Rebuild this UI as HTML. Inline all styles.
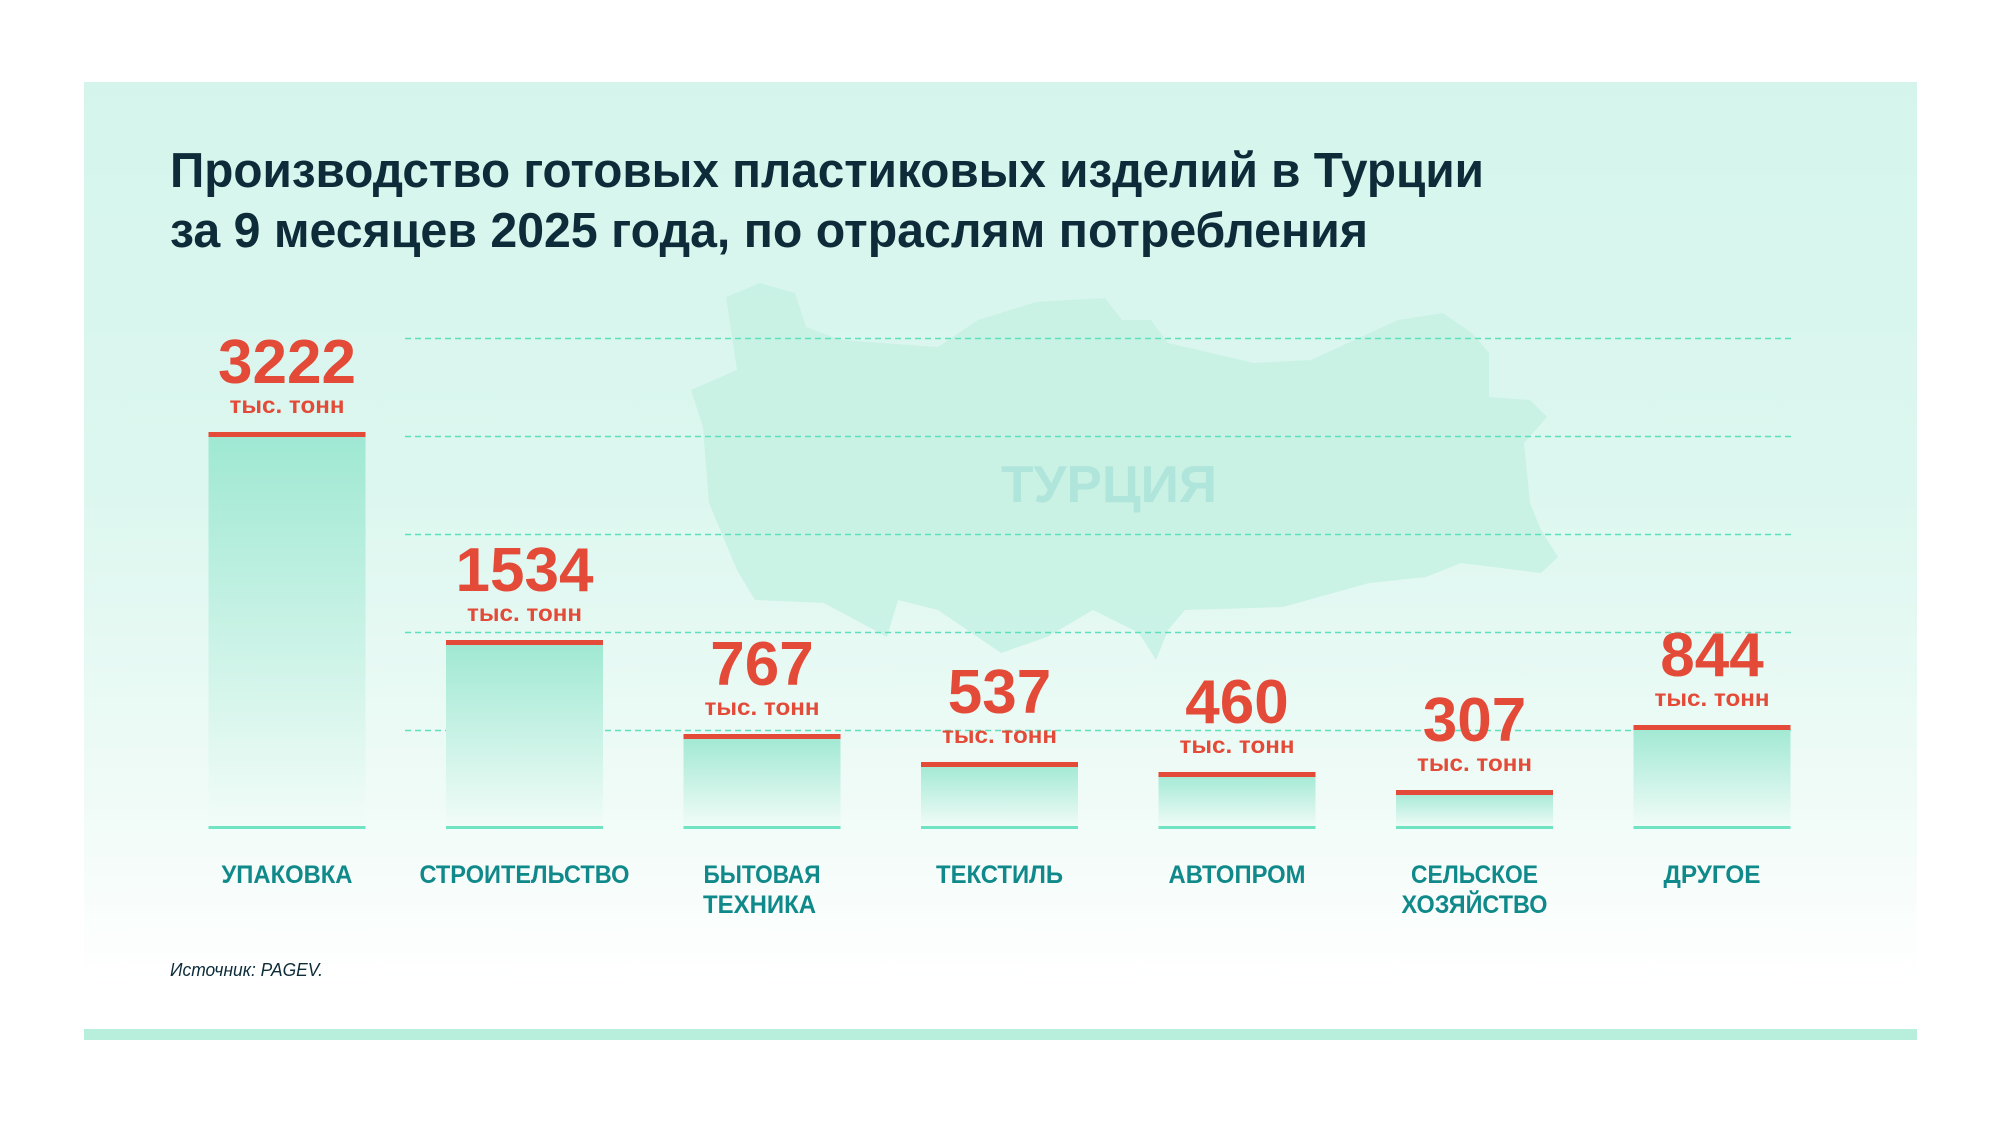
<!DOCTYPE html>
<html><head><meta charset="utf-8"><style>
html,body{margin:0;padding:0;background:#fff;}
svg{display:block;}
text{font-family:"Liberation Sans","DejaVu Sans",sans-serif;}
</style></head><body>
<svg width="2000" height="1125" viewBox="0 0 2000 1125" xmlns="http://www.w3.org/2000/svg">
<defs>
<linearGradient id="bg" x1="0" y1="0" x2="0" y2="1">
<stop offset="0" stop-color="#d5f5ec"/>
<stop offset="0.45" stop-color="#dcf7ef"/>
<stop offset="0.8" stop-color="#f0fbf7"/>
<stop offset="1" stop-color="#ffffff"/>
</linearGradient>
<linearGradient id="bar" x1="0" y1="0" x2="0" y2="1">
<stop offset="0" stop-color="#9ee8d2"/>
<stop offset="1" stop-color="#f2fcf8"/>
</linearGradient>
</defs>
<rect x="84" y="82" width="1833" height="900" fill="url(#bg)"/>
<rect x="84" y="1029" width="1833" height="11" fill="#b8eedc"/>
<polygon fill="#c6f1e3" opacity="0.85" points="703,427 691,390 737,370 726,297 760,283 795,293 806,327 841,340 938,347 978,320 1036,302 1105,298 1122,320 1151,320 1168,343 1254,363 1311,360 1398,320 1443,313 1472,333 1489,353 1489,397 1530,400 1547,417 1524,443 1530,503 1541,530 1558,557 1541,573 1461,563 1426,577 1369,583 1283,607 1185,610 1168,630 1156,660 1139,633 1093,610 1047,637 1001,653 938,610 898,600 887,637 824,603 755,600 737,570 709,503"/>
<text x="1109" y="502" font-size="52" font-weight="bold" fill="#b0e5db" text-anchor="middle" textLength="216" lengthAdjust="spacingAndGlyphs">ТУРЦИЯ</text>
<text x="170" y="187" font-size="49" font-weight="bold" fill="#0d2b38" textLength="1314" lengthAdjust="spacingAndGlyphs">Производство готовых пластиковых изделий в Турции</text>
<text x="170" y="247" font-size="49" font-weight="bold" fill="#0d2b38" textLength="1198" lengthAdjust="spacingAndGlyphs">за 9 месяцев 2025 года, по отраслям потребления</text>
<g stroke="#5fe0bc" stroke-width="1.5" stroke-dasharray="6,4">
<line x1="405" y1="338.5" x2="1791" y2="338.5"/>
<line x1="405" y1="436.5" x2="1791" y2="436.5"/>
<line x1="405" y1="534.5" x2="1791" y2="534.5"/>
<line x1="405" y1="632.5" x2="1791" y2="632.5"/>
<line x1="405" y1="730.5" x2="1791" y2="730.5"/>
</g>
<g>
<rect x="208.5" y="432" width="157" height="396" fill="url(#bar)"/>
<rect x="446" y="640" width="157" height="188" fill="url(#bar)"/>
<rect x="683.5" y="734" width="157" height="94" fill="url(#bar)"/>
<rect x="921" y="762" width="157" height="66" fill="url(#bar)"/>
<rect x="1158.5" y="772" width="157" height="56" fill="url(#bar)"/>
<rect x="1396" y="790" width="157" height="38" fill="url(#bar)"/>
<rect x="1633.5" y="725" width="157" height="103" fill="url(#bar)"/>
</g>
<g fill="#e34a37">
<rect x="208.5" y="432" width="157" height="5"/>
<rect x="446" y="640" width="157" height="5"/>
<rect x="683.5" y="734" width="157" height="5"/>
<rect x="921" y="762" width="157" height="5"/>
<rect x="1158.5" y="772" width="157" height="5"/>
<rect x="1396" y="790" width="157" height="5"/>
<rect x="1633.5" y="725" width="157" height="5"/>
</g>
<g fill="#6fe3c2">
<rect x="208.5" y="826" width="157" height="3"/>
<rect x="446" y="826" width="157" height="3"/>
<rect x="683.5" y="826" width="157" height="3"/>
<rect x="921" y="826" width="157" height="3"/>
<rect x="1158.5" y="826" width="157" height="3"/>
<rect x="1396" y="826" width="157" height="3"/>
<rect x="1633.5" y="826" width="157" height="3"/>
</g>
<g fill="#e34a37" font-weight="bold" text-anchor="middle">
<text x="287" y="383" font-size="62">3222</text>
<text x="287" y="413" font-size="23" textLength="115" lengthAdjust="spacingAndGlyphs">тыс. тонн</text>
<text x="524.5" y="591" font-size="62">1534</text>
<text x="524.5" y="621" font-size="23" textLength="115" lengthAdjust="spacingAndGlyphs">тыс. тонн</text>
<text x="762" y="685" font-size="62">767</text>
<text x="762" y="715" font-size="23" textLength="115" lengthAdjust="spacingAndGlyphs">тыс. тонн</text>
<text x="999.5" y="713" font-size="62">537</text>
<text x="999.5" y="743" font-size="23" textLength="115" lengthAdjust="spacingAndGlyphs">тыс. тонн</text>
<text x="1237" y="723" font-size="62">460</text>
<text x="1237" y="753" font-size="23" textLength="115" lengthAdjust="spacingAndGlyphs">тыс. тонн</text>
<text x="1474.5" y="741" font-size="62">307</text>
<text x="1474.5" y="771" font-size="23" textLength="115" lengthAdjust="spacingAndGlyphs">тыс. тонн</text>
<text x="1712" y="676" font-size="62">844</text>
<text x="1712" y="706" font-size="23" textLength="115" lengthAdjust="spacingAndGlyphs">тыс. тонн</text>
</g>
<g fill="#10898a" font-weight="bold" font-size="25" text-anchor="middle">
<text x="287" y="883" textLength="131" lengthAdjust="spacingAndGlyphs">УПАКОВКА</text>
<text x="524.5" y="883" textLength="210" lengthAdjust="spacingAndGlyphs">СТРОИТЕЛЬСТВО</text>
<text x="762" y="883" textLength="117" lengthAdjust="spacingAndGlyphs">БЫТОВАЯ</text>
<text x="759.5" y="913" textLength="113" lengthAdjust="spacingAndGlyphs">ТЕХНИКА</text>
<text x="999.5" y="883" textLength="127" lengthAdjust="spacingAndGlyphs">ТЕКСТИЛЬ</text>
<text x="1237" y="883" textLength="137" lengthAdjust="spacingAndGlyphs">АВТОПРОМ</text>
<text x="1474.5" y="883" textLength="127" lengthAdjust="spacingAndGlyphs">СЕЛЬСКОЕ</text>
<text x="1474.5" y="913" textLength="146" lengthAdjust="spacingAndGlyphs">ХОЗЯЙСТВО</text>
<text x="1712" y="883" textLength="97" lengthAdjust="spacingAndGlyphs">ДРУГОЕ</text>
</g>
<text x="170" y="976" font-size="18" font-style="italic" fill="#0d2b38" textLength="153" lengthAdjust="spacingAndGlyphs">Источник: PAGEV.</text>
</svg>
</body></html>
